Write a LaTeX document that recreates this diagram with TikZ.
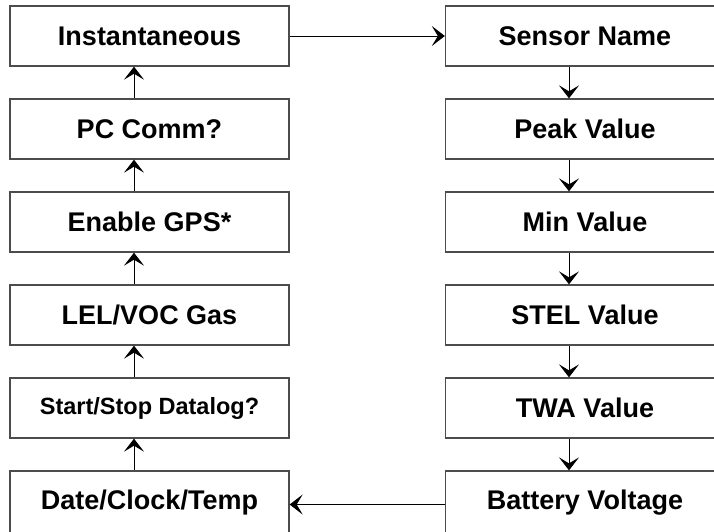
\documentclass[tikz,border=0pt]{standalone}
\usepackage{fontspec}
\setmainfont{Liberation Sans}
\usetikzlibrary{arrows.meta}
\begin{document}
\begin{tikzpicture}[x=1pt,y=-1pt,
  box/.style={draw=black!70,line width=1.3pt,rectangle,minimum width=279pt,minimum height=60pt,inner sep=0pt,
    font=\fontsize{27}{30}\selectfont\bfseries},
  smallbox/.style={box,font=\fontsize{23.5}{26}\selectfont\bfseries},
  lastbox/.style={box,minimum height=64pt},
  conn/.style={line width=1pt,-{Stealth[length=13pt,width=20pt,inset=6pt]}}]
\useasboundingbox (0,0) rectangle (714,531);
\clip (0,0) rectangle (714,531);
\node[box] (inst) at (149.5,36) {Instantaneous};
\node[box] (pc) at (149.5,129) {PC Comm?};
\node[box] (gps) at (149.5,222) {Enable GPS*};
\node[box] (lel) at (149.5,315) {LEL/VOC Gas};
\node[smallbox] (dl) at (149.5,408) {Start/Stop Datalog?};
\node[lastbox] (date) at (149.5,503) {Date/Clock/Temp};
\node[box] (sn) at (585,36) {Sensor Name};
\node[box] (peak) at (585,129) {Peak Value};
\node[box] (min) at (585,222) {Min Value};
\node[box] (stel) at (585,315) {STEL Value};
\node[box] (twa) at (585,408) {TWA Value};
\node[lastbox] (bat) at (585,503) {Battery Voltage};
\draw[conn] (inst.east) -- (sn.west);
\draw[conn] ([yshift=-1.5pt]bat.west) -- ([yshift=-1.5pt]date.east);
\foreach \a/\b in {date/dl,dl/lel,lel/gps,gps/pc,pc/inst}
  \draw[conn] ([xshift=-15.5pt]\a.north) -- ([xshift=-15.5pt]\b.south);
\foreach \a/\b in {sn/peak,peak/min,min/stel,stel/twa,twa/bat}
  \draw[conn] ([xshift=-16pt]\a.south) -- ([xshift=-16pt]\b.north);
\end{tikzpicture}
\end{document}
